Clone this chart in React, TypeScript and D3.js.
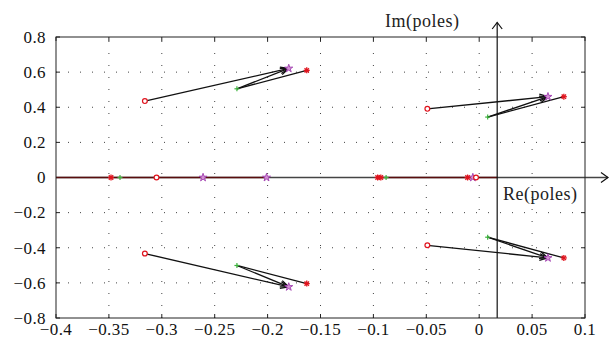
import React from 'react'
import * as d3 from 'd3'

// tick values
const xTicks = [-0.4, -0.35, -0.3, -0.25, -0.2, -0.15, -0.1, -0.05, 0, 0.05, 0.1]
const yTicks = [-0.8, -0.6, -0.4, -0.2, 0, 0.2, 0.4, 0.6, 0.8]

// pole positions [re, im]
const circlePoles = [[-0.316, 0.435], [-0.049, 0.391], [-0.316, -0.433], [-0.049, -0.386], [-0.305, 0], [-0.003, 0]]
const plusPoles = [[-0.229, 0.505], [0.008, 0.344], [-0.229, -0.501], [0.008, -0.340], [-0.3395, 0], [-0.088, 0]]
const starPoles = [[-0.180, 0.621], [0.065, 0.460], [-0.180, -0.623], [0.065, -0.458], [-0.261, 0], [-0.201, 0], [-0.006, 0]]
const asteriskPoles = [[-0.163, 0.610], [0.080, 0.460], [-0.163, -0.604], [0.080, -0.458], [-0.348, 0], [-0.096, 0], [-0.093, 0], [-0.011, 0]]

// trajectories on the real axis
const realSegments = [[-0.4, -0.2], [-0.096, 0.017]]
const imAxisAt = 0.017

const W = 616, H = 347
const m = { top: 37, right: 31, bottom: 29, left: 56 }
const font = "'Liberation Serif', 'Times New Roman', serif"

const x = d3.scaleLinear().domain([-0.4, 0.1]).range([m.left, W - m.right])
const y = d3.scaleLinear().domain([-0.8, 0.8]).range([H - m.bottom, m.top])

const fmt = (v: number) => {
  const s = d3.format('~g')(+v.toFixed(2))
  return s.replace('-', '\u2212\u2009')
}

function Arrow({ x1, y1, x2, y2, head = true }: { x1: number, y1: number, x2: number, y2: number, head?: boolean }) {
  const a = Math.atan2(y2 - y1, x2 - x1)
  const L = 9, w = 0.38
  const p1 = [x2 - L * Math.cos(a - w), y2 - L * Math.sin(a - w)]
  const p2 = [x2 - L * Math.cos(a + w), y2 - L * Math.sin(a + w)]
  return (
    <g stroke="#111" strokeWidth={1.3} fill="none">
      <line x1={x1} y1={y1} x2={x2} y2={y2} />
      {head && <polyline points={`${p1[0]},${p1[1]} ${x2},${y2} ${p2[0]},${p2[1]}`} />}
    </g>
  )
}

const starPath = d3.symbol(d3.symbolStar, 20)()

export default function App() {
  const x0 = x(-0.4), x1 = x(0.1), yT = y(0.8), yB = y(-0.8)
  const zeroY = y(0), imX = x(imAxisAt)
  const pt = (p: number[]) => [x(p[0]), y(p[1])]

  return (
    <svg width={W} height={H} style={{ position: 'absolute', left: 0, top: 0, background: '#fff', fontFamily: font }}>
      {/* dotted grid */}
      <g stroke="#444" strokeWidth={1} strokeDasharray="1,11">
        {xTicks.slice(1, -1).map(t => <line key={'gx' + t} x1={x(t)} x2={x(t)} y1={yB} y2={yT} />)}
        {yTicks.slice(1, -1).filter(t => t !== 0).map(t => <line key={'gy' + t} x1={x0} x2={x1} y1={y(t)} y2={y(t)} />)}
      </g>

      {/* inward ticks */}
      <g stroke="#222" strokeWidth={1}>
        {xTicks.map(t => <g key={'tx' + t}>
          <line x1={x(t)} x2={x(t)} y1={yB} y2={yB - 4} />
          <line x1={x(t)} x2={x(t)} y1={yT} y2={yT + 4} />
        </g>)}
        {yTicks.map(t => <g key={'ty' + t}>
          <line x1={x0} x2={x0 + 4} y1={y(t)} y2={y(t)} />
          <line x1={x1} x2={x1 - 4} y1={y(t)} y2={y(t)} />
        </g>)}
      </g>

      {/* real axis */}
      <line x1={x0} x2={608} y1={zeroY} y2={zeroY} stroke="#444" strokeWidth={1.4} />
      <polyline points={`601,${zeroY - 5} 608,${zeroY} 601,${zeroY + 5}`} fill="none" stroke="#111" strokeWidth={1.2} />
      {realSegments.map((s, i) => (
        <line key={'rs' + i} x1={x(s[0])} x2={x(s[1])} y1={zeroY} y2={zeroY} stroke="#5a0d0d" strokeWidth={1.6} />
      ))}

      {/* imaginary axis */}
      <line x1={imX} x2={imX} y1={yB} y2={22.5} stroke="#111" strokeWidth={1.2} />
      <polyline points={`${imX - 5},29 ${imX},22.5 ${imX + 5},29`} fill="none" stroke="#111" strokeWidth={1.2} />

      {/* frame */}
      <rect x={x0} y={yT} width={x1 - x0} height={yB - yT} fill="none" stroke="#222" strokeWidth={1} />

      {/* trajectories */}
      {[0, 1, 2, 3].map(i => {
        const c = pt(circlePoles[i]), p = pt(plusPoles[i]), s = pt(starPoles[i]), a = pt(asteriskPoles[i])
        return (
          <g key={'tr' + i}>
            <Arrow x1={c[0]} y1={c[1]} x2={s[0]} y2={s[1]} />
            <Arrow x1={p[0]} y1={p[1]} x2={s[0]} y2={s[1]} />
            <Arrow x1={a[0]} y1={a[1]} x2={p[0]} y2={p[1]} head={false} />
          </g>
        )
      })}

      {/* markers */}
      {plusPoles.map((p, i) => (
        <g key={'pl' + i} transform={`translate(${x(p[0])},${y(p[1])})`} stroke="#3cb43c" strokeWidth={1.2}>
          <line x1={-2.5} x2={2.5} y1={0} y2={0} /><line x1={0} x2={0} y1={-2.5} y2={2.5} />
        </g>
      ))}
      {starPoles.map((p, i) => (
        <path key={'st' + i} d={starPath!} transform={`translate(${x(p[0])},${y(p[1])})`} fill="#d490d4" stroke="#a040b0" strokeWidth={0.9} />
      ))}
      {asteriskPoles.map((p, i) => (
        <g key={'as' + i} transform={`translate(${x(p[0])},${y(p[1])})`} stroke="#e0141e" strokeWidth={1.3}>
          <line x1={-3} x2={3} y1={0} y2={0} /><line x1={0} x2={0} y1={-3} y2={3} />
          <line x1={-2.2} x2={2.2} y1={-2.2} y2={2.2} /><line x1={-2.2} x2={2.2} y1={2.2} y2={-2.2} />
        </g>
      ))}
      {circlePoles.map((p, i) => (
        <circle key={'ci' + i} cx={x(p[0])} cy={y(p[1])} r={2.4} fill="#fff" stroke="#e0141e" strokeWidth={1.2} />
      ))}

      {/* tick labels */}
      <g fontSize={17} fill="#111">
        {xTicks.map(t => (
          <text key={'lx' + t} x={x(t)} y={335} textAnchor="middle" letterSpacing={0.4}>{fmt(t)}</text>
        ))}
        {yTicks.map(t => (
          <text key={'ly' + t} x={46} y={y(t)} dy="0.34em" textAnchor="end" letterSpacing={0.4}>{fmt(t)}</text>
        ))}
      </g>

      {/* axis names */}
      <text x={385} y={27} fontSize={18} fill="#222" letterSpacing={0.5}>Im(poles)</text>
      <text x={503} y={200} fontSize={18} fill="#222" letterSpacing={0.5}>Re(poles)</text>
    </svg>
  )
}
